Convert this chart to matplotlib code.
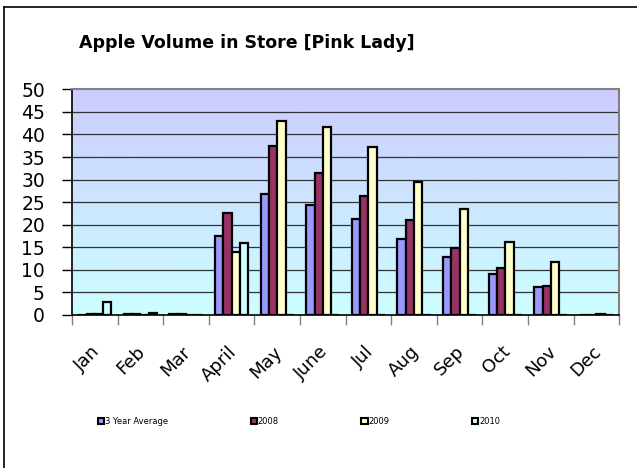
import numpy as np
import matplotlib
matplotlib.use("Agg")
import matplotlib.pyplot as plt
from matplotlib.colors import LinearSegmentedColormap
from matplotlib.lines import Line2D

months = ["Jan", "Feb", "Mar", "April", "May", "June", "Jul", "Aug", "Sep", "Oct", "Nov", "Dec"]
series_names = ["3 Year Average", "2008", "2009", "2010"]
avg3 = [0.0, 0.3, 0.3, 17.6, 26.8, 24.4, 21.3, 16.8, 12.8, 9.0, 6.1, 0.0]
y2008 = [0.3, 0.3, 0.3, 22.7, 37.4, 31.4, 26.3, 21.0, 14.8, 10.5, 6.4, 0.0]
y2009 = [0.3, 0.0, 0.0, 14.0, 42.9, 41.7, 37.3, 29.5, 23.4, 16.2, 11.8, 0.3]
y2010 = [2.8, 0.4, 0.0, 15.9, 0.0, 0.0, 0.0, 0.0, 0.0, 0.0, 0.0, 0.0]
colors = ["#9999FF", "#993366", "#FFFFCC", "#CCFFFF"]
yticks = [0, 5, 10, 15, 20, 25, 30, 35, 40, 45, 50]

fig = plt.figure(figsize=(6.37, 4.68), dpi=100)
ax = fig.add_axes([72/637, 1 - 315/468, (619.3 - 72)/637, (315 - 89.3)/468])

# gradient background
cmap = LinearSegmentedColormap.from_list("bg", ["#CCFFFF", "#CCCCFF"])
grad = np.linspace(0, 1, 256).reshape(-1, 1)
ax.imshow(grad, cmap=cmap, aspect="auto", extent=[-0.5, 11.5, 0, 50],
          origin="lower", zorder=0)

x = np.arange(len(months))
w = 1 / 5.5
data = [avg3, y2008, y2009, y2010]
handles = []
for i, (vals, c) in enumerate(zip(data, colors)):
    b = ax.bar(x + (i - 1.5) * w, vals, width=w, color=c, edgecolor="black",
               linewidth=1.6, zorder=3, label=series_names[i])
    handles.append(b)

ax.set_xlim(-0.5, 11.5)
ax.set_ylim(0, 50)
ax.set_yticks(yticks)
ax.set_yticklabels([str(v) for v in yticks], fontsize=13.5)
for v in yticks[1:-1]:
    ax.axhline(v, color="#333333", linewidth=0.9, zorder=1)

ax.set_xticks(np.arange(-0.5, 12, 1))
ax.set_xticklabels([])
for i, m in enumerate(months):
    ax.text(i - 0.09, -6.1, m, rotation=45, ha="right", va="top",
            rotation_mode="anchor", fontsize=13)

ax.tick_params(axis="y", direction="out", length=7, width=1, pad=12.5, colors="black")
ax.tick_params(axis="x", direction="out", length=7, width=1, color="#808080")
for s in ["top", "right"]:
    ax.spines[s].set_color("#808080")
    ax.spines[s].set_linewidth(1.5)
ax.spines["left"].set_color("black")
ax.spines["left"].set_linewidth(1.2)
ax.spines["bottom"].set_color("black")
ax.spines["bottom"].set_linewidth(1.2)

fig.text(246.5/637, 1 - 43.5/468, "Apple Volume in Store [Pink Lady]",
         ha="center", va="center", fontsize=12.5, fontweight="bold")

leg = fig.legend(handles=handles, labels=series_names, ncol=4,
                 loc="center left", bbox_to_anchor=(98/637, 1 - 421.5/468),
                 frameon=False, fontsize=6, handlelength=0.75, handleheight=0.75,
                 handletextpad=0.1, columnspacing=9.9, borderaxespad=0, borderpad=0)
for p in leg.get_patches():
    p.set_linewidth(1.5)

# outer border (left and top visible)
fig.add_artist(Line2D([4/637, 4/637], [0, 1 - 7/468], color="black", linewidth=1.2))
fig.add_artist(Line2D([4/637, 1], [1 - 7/468, 1 - 7/468], color="black", linewidth=1.2))

fig.savefig("out.png", dpi=100)
